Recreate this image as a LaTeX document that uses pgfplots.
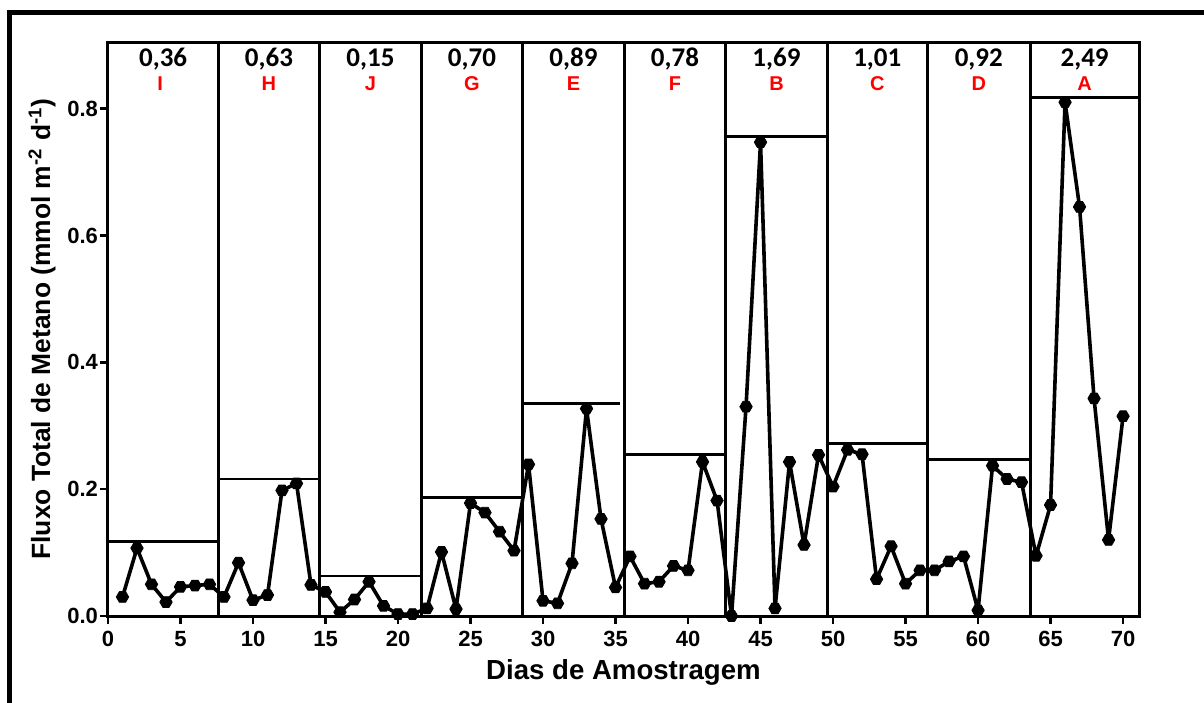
\documentclass[border=0pt]{standalone}
\usepackage{fontspec}
\setmainfont{Liberation Sans}
\newfontfamily\calfont{Carlito}
\usepackage{pgfplots}
\usepackage{pgfplotstable}
\pgfplotsset{compat=1.18}

\pgfdeclareplotmark{hex*}{%
 \pgfpathmoveto{\pgfqpointpolar{0}{\pgfplotmarksize}}%
 \pgfpathlineto{\pgfqpointpolar{60}{\pgfplotmarksize}}%
 \pgfpathlineto{\pgfqpointpolar{120}{\pgfplotmarksize}}%
 \pgfpathlineto{\pgfqpointpolar{180}{\pgfplotmarksize}}%
 \pgfpathlineto{\pgfqpointpolar{240}{\pgfplotmarksize}}%
 \pgfpathlineto{\pgfqpointpolar{300}{\pgfplotmarksize}}%
 \pgfpathclose\pgfusepathqfillstroke}

\pgfplotstableread{
dia fluxo
1 0.030
2 0.107
3 0.050
4 0.022
5 0.046
6 0.048
7 0.050
8 0.030
9 0.084
10 0.025
11 0.033
12 0.198
13 0.209
14 0.049
15 0.038
16 0.006
17 0.026
18 0.054
19 0.016
20 0.003
21 0.003
22 0.012
23 0.101
24 0.011
25 0.178
26 0.163
27 0.133
28 0.103
29 0.239
30 0.024
31 0.020
32 0.083
33 0.327
34 0.153
35 0.045
36 0.094
37 0.051
38 0.054
39 0.079
40 0.072
41 0.243
42 0.182
43 0.000
44 0.330
45 0.747
46 0.012
47 0.243
48 0.112
49 0.254
50 0.204
51 0.262
52 0.255
53 0.058
54 0.110
55 0.051
56 0.072
57 0.072
58 0.086
59 0.094
60 0.009
61 0.237
62 0.216
63 0.211
64 0.095
65 0.175
66 0.810
67 0.645
68 0.343
69 0.120
70 0.315
}\fluxdata

\tikzset{numlab/.style={font=\calfont\bfseries\fontsize{13.5}{14}\selectfont, anchor=center},
         letlab/.style={font=\bfseries\fontsize{10}{11}\selectfont, text=red, anchor=center}}

\begin{document}
\begin{tikzpicture}[x=1pt,y=1pt]
\begin{axis}[
  at={(0,0)}, anchor=south west,
  scale only axis, width=515.5pt, height=287pt,
  xmin=0, xmax=71.1, ymin=0, ymax=0.905,
  axis line style={line width=1.5pt},
  xtick={0,5,...,70}, ytick={0,0.2,0.4,0.6,0.8},
  xtick pos=bottom, ytick pos=left,
  tick align=outside, major tick length=4pt,
  tick style={line width=1.2pt, black},
  /pgf/number format/assume math mode=true,
  yticklabel style={xshift=2.5pt, /pgf/number format/.cd, fixed, fixed zerofill, precision=1},
  tick label style={font=\bfseries\fontsize{11}{12}\selectfont},
  xlabel={Dias de Amostragem},
  xlabel style={font=\bfseries\fontsize{13.8}{15}\selectfont, at={(axis description cs:0.5,-0.0976)}, anchor=center},
  ylabel={Fluxo Total de Metano (mmol m\textsuperscript{-2} d\textsuperscript{-1})},
  ylabel style={font=\bfseries\fontsize{13.2}{15}\selectfont, at={(axis description cs:-0.064,0.5)}, anchor=center},
  clip=false,
]
% dividers
\addplot[black, line width=1.4pt] coordinates {(7.6,0) (7.6,0.905)};
\addplot[black, line width=1.4pt] coordinates {(14.6,0) (14.6,0.905)};
\addplot[black, line width=1.4pt] coordinates {(21.6,0) (21.6,0.905)};
\addplot[black, line width=1.4pt] coordinates {(28.6,0) (28.6,0.905)};
\addplot[black, line width=1.4pt] coordinates {(35.6,0) (35.6,0.905)};
\addplot[black, line width=1.4pt] coordinates {(42.6,0) (42.6,0.905)};
\addplot[black, line width=1.4pt] coordinates {(49.6,0) (49.6,0.905)};
\addplot[black, line width=1.4pt] coordinates {(56.5,0) (56.5,0.905)};
\addplot[black, line width=1.4pt] coordinates {(63.6,0) (63.6,0.905)};
% mean lines
\addplot[black, line width=1.4pt] coordinates {(0,0.118) (7.6,0.118)};
\addplot[black, line width=1.4pt] coordinates {(7.6,0.216) (14.7,0.216)};
\addplot[black, line width=1.4pt] coordinates {(14.6,0.063) (21.6,0.063)};
\addplot[black, line width=1.4pt] coordinates {(21.6,0.187) (28.6,0.187)};
\addplot[black, line width=1.4pt] coordinates {(28.6,0.335) (35.3,0.335)};
\addplot[black, line width=1.4pt] coordinates {(35.6,0.255) (42.6,0.255)};
\addplot[black, line width=1.4pt] coordinates {(42.6,0.756) (49.6,0.756)};
\addplot[black, line width=1.4pt] coordinates {(49.6,0.272) (56.6,0.272)};
\addplot[black, line width=1.4pt] coordinates {(56.5,0.247) (63.6,0.247)};
\addplot[black, line width=1.4pt] coordinates {(63.6,0.817) (71.1,0.817)};
% data
\addplot[black, line width=1.8pt, line join=round, mark=hex*, mark size=3.1pt, mark options={fill=black, line width=0.4pt, line join=round}] table[x=dia, y=fluxo] {\fluxdata};
% annotations
\node[numlab] at (axis cs:3.8,0.878) {0,36};
\node[numlab] at (axis cs:11.1,0.878) {0,63};
\node[numlab] at (axis cs:18.1,0.878) {0,15};
\node[numlab] at (axis cs:25.1,0.878) {0,70};
\node[numlab] at (axis cs:32.1,0.878) {0,89};
\node[numlab] at (axis cs:39.1,0.878) {0,78};
\node[numlab] at (axis cs:46.1,0.878) {1,69};
\node[numlab] at (axis cs:53.05,0.878) {1,01};
\node[numlab] at (axis cs:60.05,0.878) {0,92};
\node[numlab] at (axis cs:67.35,0.878) {2,49};
\node[letlab] at (axis cs:3.6,0.839) {I};
\node[letlab] at (axis cs:11.1,0.839) {H};
\node[letlab] at (axis cs:18.1,0.839) {J};
\node[letlab] at (axis cs:25.1,0.839) {G};
\node[letlab] at (axis cs:32.1,0.839) {E};
\node[letlab] at (axis cs:39.1,0.839) {F};
\node[letlab] at (axis cs:46.1,0.839) {B};
\node[letlab] at (axis cs:53.05,0.839) {C};
\node[letlab] at (axis cs:60.05,0.839) {D};
\node[letlab] at (axis cs:67.35,0.839) {A};
\end{axis}
\draw[line width=2.5pt] (-49,-60) -- (-49,301.5) -- (560,301.5);
\pgfresetboundingbox
\useasboundingbox (-54,-43) rectangle (548,308);
\end{tikzpicture}
\end{document}
